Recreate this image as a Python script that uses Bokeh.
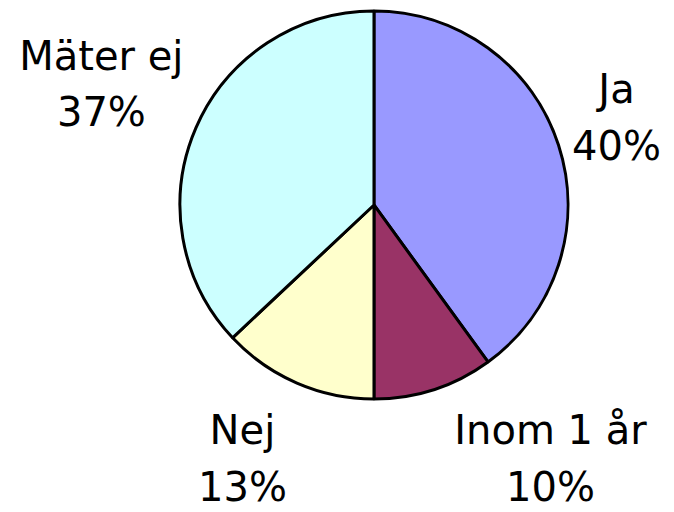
import math
from bokeh.plotting import figure
from bokeh.models import ColumnDataSource, Range1d
from bokeh.core.properties import value
from bokeh.embed import file_html
from bokeh.resources import INLINE

# Data
labels = ["Ja", "Inom 1 år", "Nej", "Mäter ej"]
values = [40, 10, 13, 37]
colors = ["#9999FF", "#993366", "#FFFFCC", "#CCFFFF"]

# label anchor positions (in pie-radius units, relative to pie center)
label_x = [1.25, 0.91, -0.678, -1.405]
label_y = [0.598, -1.16, -1.16, 0.770]
line_gap = 0.293

total = float(sum(values))
starts, ends = [], []
cum = 0.0
for v in values:
    starts.append(math.pi / 2 - 2 * math.pi * cum / total)
    cum += v
    ends.append(math.pi / 2 - 2 * math.pi * cum / total)

src = ColumnDataSource(dict(
    start=starts, end=ends, color=colors, label=labels,
    pct=[f"{round(100 * v / total)}%" for v in values],
    lx=label_x, ly=label_y, ly2=[y - line_gap for y in label_y],
))

p = figure(width=674, height=512, output_backend="svg", toolbar_location=None,
           x_range=Range1d(-1.925, 1.549), y_range=Range1d(-1.585, 1.054),
           min_border=0)
p.axis.visible = False
p.grid.visible = False
p.outline_line_color = None
p.background_fill_color = "white"

p.wedge(x=0, y=0, radius=1, start_angle="start", end_angle="end",
        direction="clock", fill_color="color", line_color="black",
        line_width=3, source=src)

common = dict(text_font=value("DejaVu Sans"), text_font_size="40px",
              text_align="center", text_baseline="alphabetic",
              text_color="black", source=src)
p.text(x="lx", y="ly", text="label", **common)
p.text(x="lx", y="ly2", text="pct", **common)

open("out.html", "w").write(file_html(p, INLINE))
